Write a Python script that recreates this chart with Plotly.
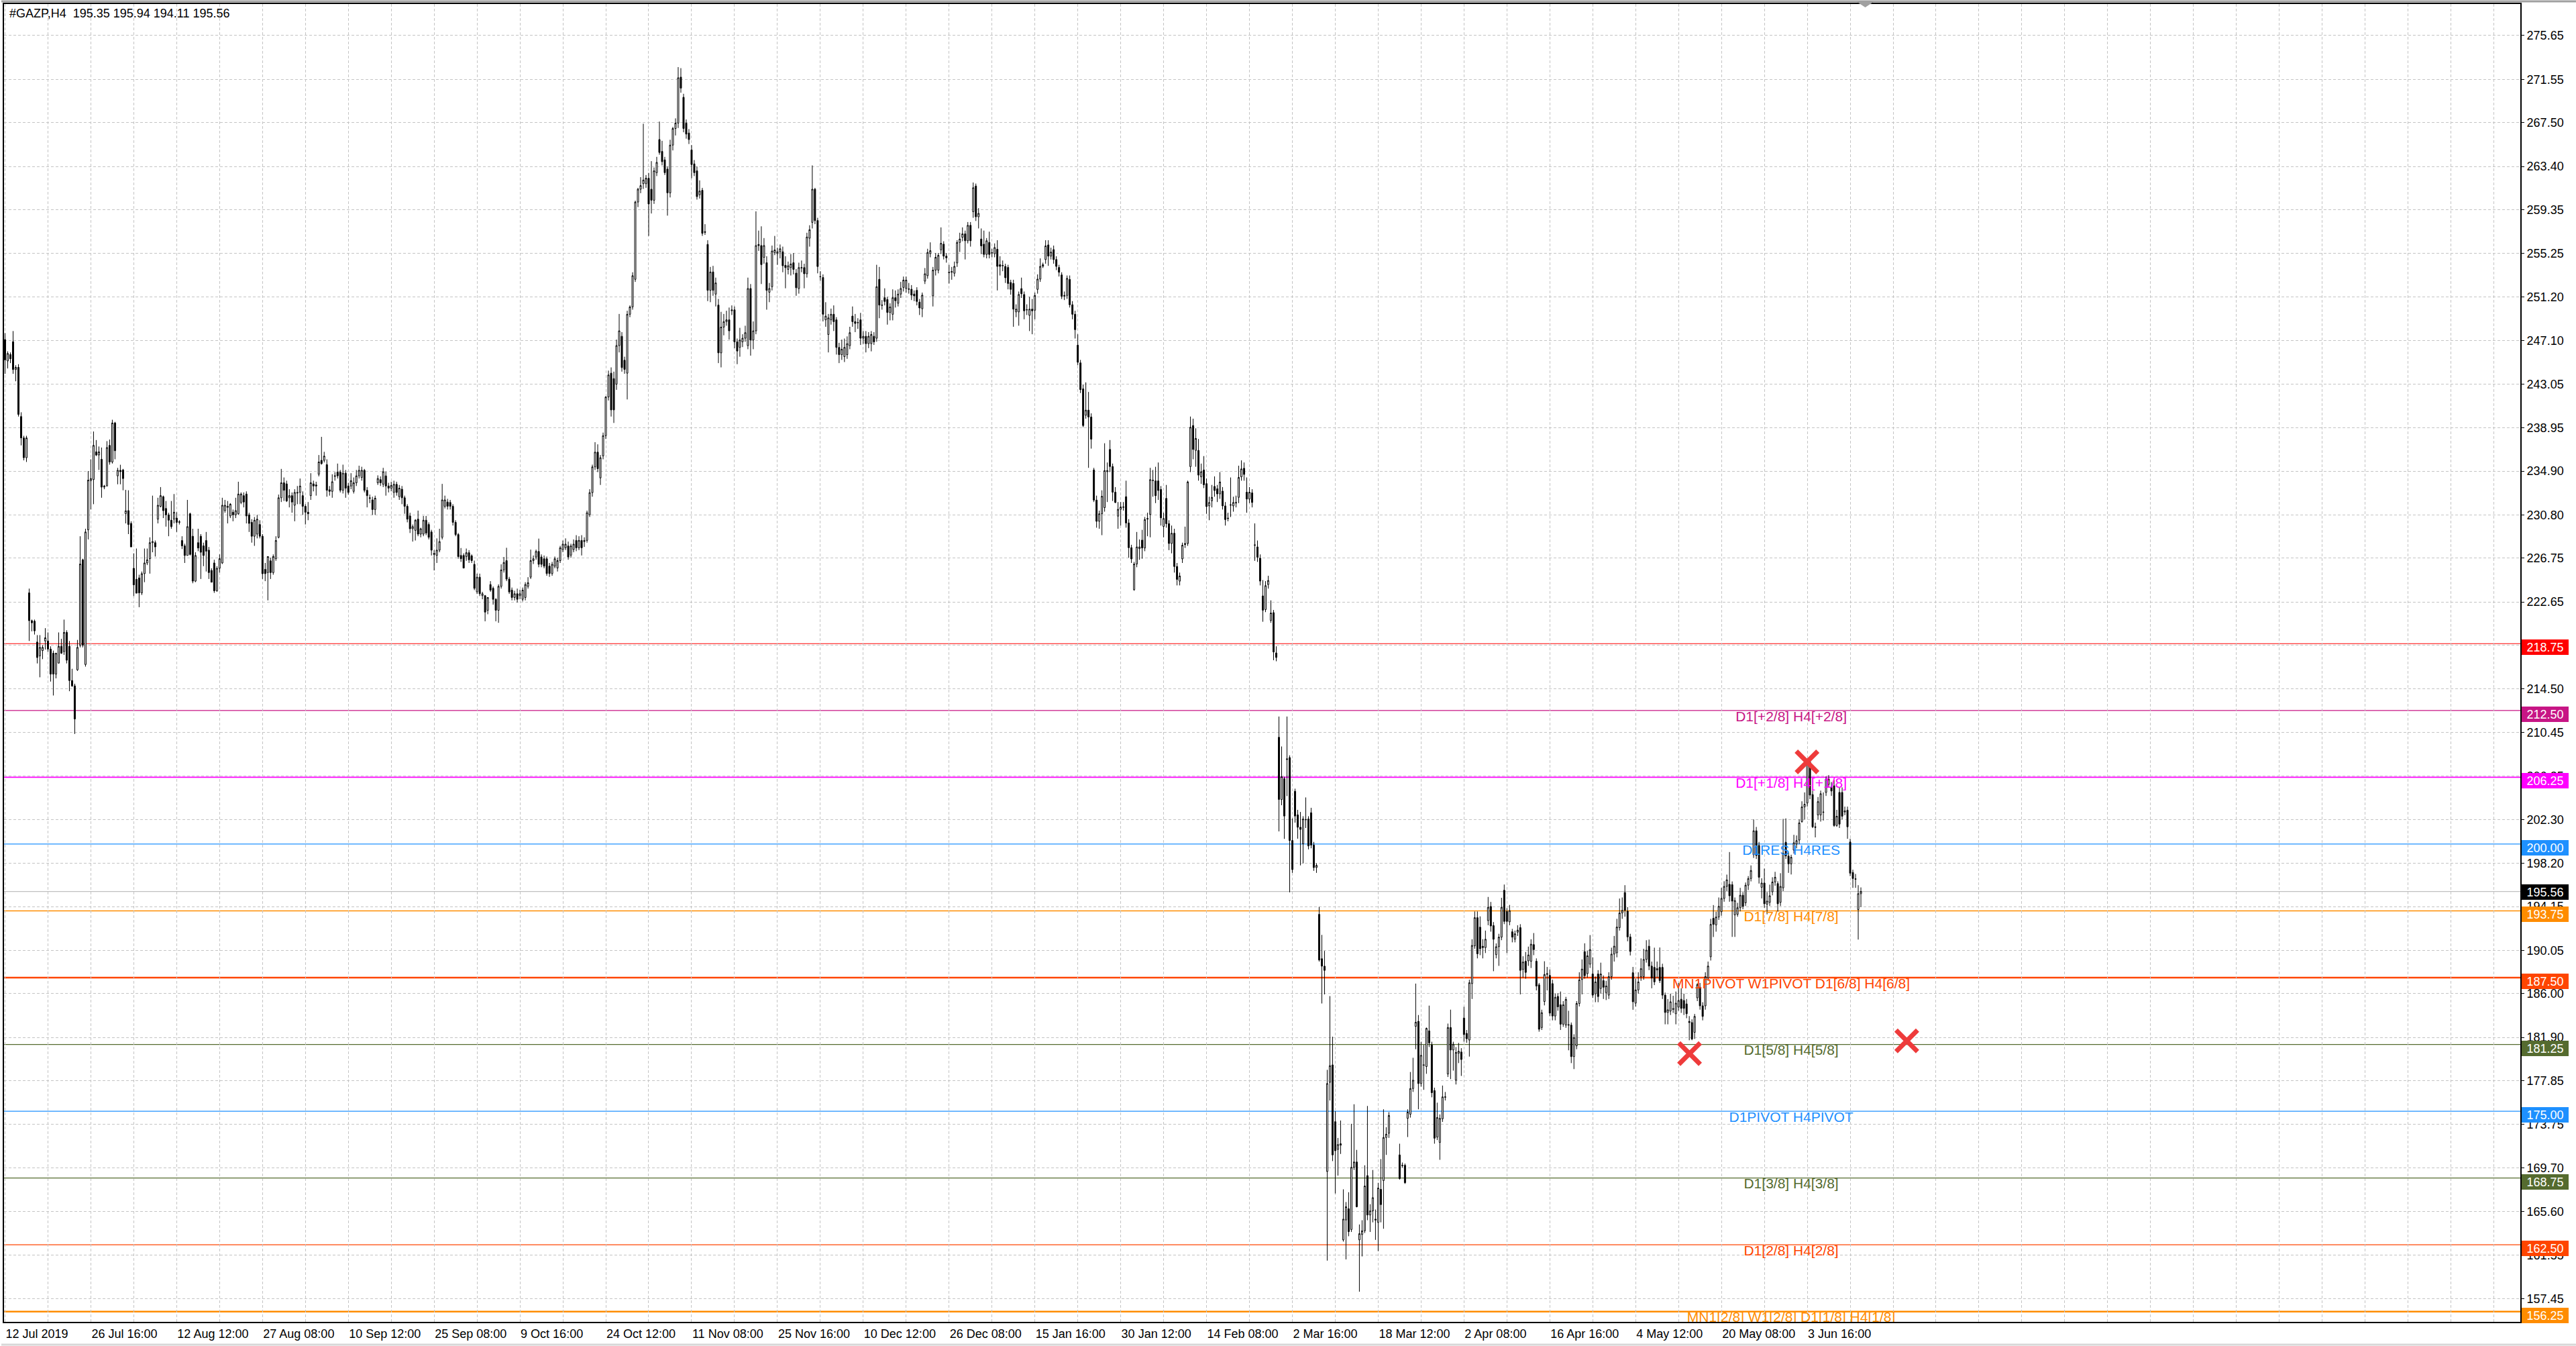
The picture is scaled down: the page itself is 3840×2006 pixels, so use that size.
import plotly.graph_objects as go

# ---------------- data ----------------
title_text = "#GAZP,H4\u00a0\u00a0195.35 195.94 194.11 195.56"

opens = [
247.2, 245.2, 245.8, 247.0, 244.4, 244.6, 240.0, 238.0, 236.15, 223.5,
220.9, 220.85, 218.9, 217.6, 218.1, 219.0, 219.0, 218.24, 217.85, 215.9,
216.93, 218.5, 218.0, 219.8, 218.5, 215.3, 214.8, 216.3, 218.6, 226.6,
216.8, 229.4, 234.0, 234.1, 236.7, 236.4, 236.0, 233.4, 233.5, 237.3,
235.75, 239.4, 234.45, 234.97, 235.0, 230.92, 231.2, 230.0, 225.8, 224.77,
224.9, 223.5, 225.3, 226.3, 226.7, 228.2, 228.2, 230.4, 231.6, 232.5,
231.4, 230.8, 230.3, 230.4, 230.5, 230.1, 228.4, 227.9, 227.0, 230.9,
228.8, 224.6, 228.2, 228.8, 227.9, 228.4, 227.5, 225.6, 226.3, 223.7,
225.8, 226.3, 231.2, 231.5, 230.7, 231.05, 230.8, 230.9, 231.96, 232.6,
232.75, 230.8, 230.1, 228.8, 229.0, 229.9, 228.8, 225.7, 225.4, 226.5,
225.4, 226.7, 228.7, 232.4, 233.8, 233.7, 232.4, 232.6, 231.7, 232.9,
232.9, 232.6, 231.6, 231.05, 232.6, 233.7, 233.6, 234.6, 235.9, 235.9,
235.5, 233.15, 233.0, 234.4, 234.8, 234.8, 233.1, 234.7, 233.5, 233.5,
233.0, 233.8, 234.45, 234.3, 234.97, 233.1, 232.4, 232.2, 231.3, 233.8,
234.1, 233.66, 234.45, 233.5, 233.3, 232.9, 233.66, 232.5, 233.2, 232.4,
231.6, 230.7, 229.5, 229.35, 230.4, 229.0, 229.0, 230.3, 229.9, 229.2,
227.2, 227.0, 227.5, 228.7, 231.6, 232.0, 231.96, 231.6, 230.1, 228.96,
227.0, 227.0, 226.9, 227.26, 226.97, 226.17, 223.6, 224.97, 223.24, 223.24,
221.87, 224.28, 223.93, 222.90, 221.87, 224.11, 225.65, 226.52, 224.79, 223.76,
223.07, 223.42, 223.24, 222.90, 223.07, 224.11, 224.97, 226.52, 226.86, 227.38,
226.86, 226.69, 226.69, 226.0, 225.31, 226.0, 225.83, 226.52, 227.55, 227.72,
227.89, 227.03, 227.55, 228.41, 227.72, 228.41, 228.3, 228.41, 230.81, 232.88,
235.29, 236.67, 234.26, 236.32, 238.21, 241.83, 244.06, 243.55, 243.03, 246.64,
247.51, 245.27, 244.06, 249.57, 250.26, 252.84, 260.07, 261.27, 261.79, 261.79,
262.30, 261.27, 260.24, 262.82, 265.92, 264.81, 264.02, 263.16, 260.93, 265.40,
266.95, 267.46, 271.76, 269.87, 267.46, 266.53, 264.95, 263.64, 262.99, 260.75,
261.17, 257.3, 256.11, 251.81, 253.53, 251.46, 250.43, 245.96, 248.37, 248.88,
249.05, 249.9, 249.98, 246.99, 246.47, 246.99, 247.33, 246.64, 251.98, 247.16,
248.02, 256.1, 256.0, 254.90, 254.39, 251.63, 252.15, 255.35, 255.25, 255.42,
255.42, 254.15, 253.77, 253.94, 254.39, 253.42, 251.98, 253.9, 253.94, 253.36,
256.69, 258.17, 261.27, 258.34, 253.1, 253.01, 249.05, 247.68, 249.05, 249.57,
249.05, 246.47, 245.79, 245.61, 245.79, 246.64, 249.40, 248.88, 248.8, 249.05,
247.33, 247.51, 246.82, 246.82, 247.51, 247.33, 252.84, 250.4, 251.12, 250.95,
249.74, 249.57, 251.12, 250.60, 251.46, 252.08, 251.98, 251.95, 251.91, 251.46,
251.81, 250.71, 250.09, 252.67, 253.18, 255.25, 251.29, 253.70, 253.70, 255.6,
256.13, 255.01, 253.5, 253.5, 253.41, 254.37, 256.29, 256.77, 257.09, 256.45,
257.89, 259.17, 261.57, 258.69, 256.61, 256.13, 255.17, 256.29, 255.3, 255.23,
255.65, 254.21, 254.1, 254.05, 253.95, 252.54, 252.45, 249.79, 249.79, 251.97,
251.42, 250.0, 249.47, 250.05, 249.95, 251.90, 252.86, 254.05, 254.69, 256.06,
255.01, 255.62, 254.69, 253.95, 253.25, 251.26, 251.33, 252.83, 250.46, 249.57,
246.68, 245.02, 242.59, 240.12, 240.60, 239.96, 235.0, 232.18, 230.20, 230.90,
231.48, 234.84, 236.92, 235.32, 232.92, 230.68, 231.32, 231.5, 232.50, 230.04,
227.73, 223.80, 226.20, 227.64, 228.44, 227.70, 230.4, 230.84, 234.0, 233.98,
233.98, 233.18, 229.72, 232.34, 229.98, 228.12, 229.08, 225.97, 224.60, 226.68,
228.02, 228.12, 235.32, 239.16, 236.83, 236.83, 234.36, 235.0, 233.72, 231.64,
232.12, 233.46, 233.24, 232.76, 233.02, 231.64, 230.5, 231.7, 231.64, 231.9,
232.44, 234.36, 235.16, 232.92, 232.28, 232.86, 228.0, 227.80, 226.74, 223.22,
221.94, 224.28, 220.92, 221.65, 217.88, 209.99, 204.17, 206.11, 207.9, 208.09,
200.33, 204.94, 202.73, 201.57, 200.02, 202.3, 202.34, 202.93, 199.90, 197.80,
193.42, 189.27, 188.57, 169.36, 177.70, 179.33, 174.02, 171.42, 171.81, 162.96,
164.82, 165.87, 163.93, 169.75, 170.25, 162.96, 163.46, 163.81, 168.97, 165.29,
165.67, 164.9, 164.59, 167.69, 168.51, 172.54, 172.93, None, None, None,
170.91, 169.9, 169.94, 174.33, 174.72, 177.12, 182.94, 183.41, 177.59, 179.3,
179.18, 182.52, 181.20, 176.93, 172.58, 172.08, 174.29, 176.3, 178.48, 182.83,
180.73, 177.90, 180.42, 180.54, 183.72, 182.28, 181.66, 186.94, 190.47, 193.11,
192.22, 190.43, 190.31, 192.84, 194.16, 192.37, 189.65, 190.39, 191.29, 195.67,
193.69, 192.72, 191.79, 191.09, 191.75, 192.18, 188.26, 189.03, 189.07, 189.03,
190.59, 189.03, 186.82, 182.83, 185.27, 187.8, 187.71, 186.94, 183.91, 185.74,
184.96, 183.14, 183.06, 183.1, 183.06, 180.11, 181.12, 185.08, 187.33, 189.93,
187.87, 188.76, 187.84, 185.98, 187.84, 186.48, 187.22, 186.10, 185.86, 187.59,
189.70, 189.82, 192.18, 193.55, 195.46, 193.72, 191.31, 187.96, 185.11, 186.35,
187.59, 187.59, 189.20, 190.44, 188.58, 188.46, 188.21, 188.46, 188.46, 185.86,
184.24, 184.37, 184.6, 184.12, 184.74, 185.48, 185.36, 185.04, 183.4, 183.30,
182.38, 185.61, 186.60, 184.86, 184.86, 187.47, 189.45, 193.05, 192.43, 193.17,
193.67, 194.91, 196.03, 196.23, 196.20, 193.37, 193.42, 194.04, 195.21, 194.5,
196.15, 196.77, 199.0, 201.24, 199.87, 195.95, 196.35, 194.37, 194.54, 195.53,
196.45, 196.30, 194.54, 195.90, 200.17, 198.88, 198.14, 199.43, 200.0, 200.37,
202.10, 203.47, 203.84, 207.69, 204.63, 201.61, 202.72, 202.72, 203.0, 204.83,
205.58, 205.33, 205.45, 201.73, 204.83, 204.83, 203.0, 203.17, 200.19, 197.34,
196.75, 193.87, 195.35,
]

highs = [
247.8, 246.1, 246.0, 248.0, 244.8, 244.9, 240.4, 238.2, 238.2, 223.9,
221.0, 221.0, 219.55, 219.55, 218.6, 220.2, 219.8, 218.5, 218.1, 217.9,
219.8, 219.2, 221.0, 220.0, 219.0, 216.4, 215.0, 219.1, 228.8, 226.7,
229.5, 234.9, 236.0, 238.6, 237.8, 237.2, 237.1, 233.6, 237.7, 237.85,
239.7, 239.5, 235.2, 235.49, 235.1, 233.14, 233.1, 230.2, 227.2, 227.65,
225.2, 225.5, 227.65, 227.65, 228.7, 232.6, 228.4, 232.4, 233.4, 232.6,
232.1, 231.0, 232.1, 232.75, 231.05, 230.3, 228.8, 228.1, 232.2, 231.0,
229.5, 227.3, 229.5, 229.0, 228.2, 229.2, 227.8, 225.8, 226.6, 226.0,
227.1, 232.4, 232.2, 232.1, 231.9, 231.3, 232.4, 233.9, 232.9, 232.9,
233.0, 231.0, 230.4, 230.6, 230.8, 230.3, 229.0, 226.3, 226.9, 226.8,
227.1, 228.8, 232.7, 235.1, 234.3, 234.0, 233.2, 232.9, 233.2, 233.5,
234.2, 233.0, 231.8, 232.0, 234.7, 234.0, 233.9, 236.4, 238.1, 236.7,
236.0, 233.5, 234.6, 234.8, 235.6, 235.0, 235.5, 235.0, 233.8, 234.7,
234.3, 235.0, 235.4, 235.3, 235.1, 233.4, 232.7, 232.5, 232.6, 234.5,
234.4, 235.2, 234.84, 233.8, 233.9, 234.0, 233.9, 233.6, 233.5, 232.6,
231.8, 231.0, 229.9, 230.4, 231.2, 229.6, 230.7, 230.7, 230.1, 229.4,
227.5, 228.6, 229.5, 233.7, 232.6, 232.3, 232.2, 231.8, 230.3, 229.1,
227.7, 227.2, 227.65, 227.5, 227.1, 226.52, 225.3, 225.3, 223.6, 223.3,
223.1, 224.6, 224.1, 223.0, 224.3, 226.17, 226.86, 227.72, 225.0, 224.0,
223.7, 223.9, 223.8, 224.0, 224.5, 224.97, 227.55, 227.0, 227.55, 228.58,
227.1, 227.0, 226.9, 226.3, 226.4, 226.9, 226.8, 227.9, 228.4, 228.6,
228.3, 228.1, 228.5, 228.9, 228.8, 228.9, 228.7, 231.2, 233.2, 235.5,
237.6, 237.4, 236.4, 238.5, 241.9, 244.3, 244.6, 244.2, 247.2, 249.6,
247.9, 245.6, 249.9, 250.4, 253.5, 260.2, 261.4, 262.4, 267.4, 262.6,
262.8, 263.9, 263.3, 264.3, 267.6, 265.8, 264.3, 263.4, 265.9, 267.1,
267.9, 272.7, 272.6, 270.2, 267.8, 266.9, 265.4, 264.0, 263.4, 262.1,
261.4, 258.0, 256.5, 254.0, 254.1, 253.0, 251.0, 249.8, 249.6, 249.9,
250.2, 250.4, 250.3, 247.3, 248.3, 247.7, 248.5, 253.0, 252.4, 248.9,
259.2, 257.4, 257.8, 256.7, 255.0, 252.5, 256.0, 256.9, 255.8, 256.1,
255.9, 255.0, 254.5, 255.2, 255.3, 253.8, 254.4, 254.6, 254.3, 257.2,
257.9, 263.5, 261.4, 258.6, 253.6, 253.3, 250.7, 249.6, 250.1, 250.4,
249.3, 246.9, 247.2, 247.3, 247.5, 248.4, 250.3, 249.6, 249.2, 249.7,
248.0, 248.0, 247.9, 248.0, 247.9, 254.2, 254.0, 250.9, 252.0, 251.2,
250.6, 251.9, 251.8, 251.9, 252.6, 253.1, 253.1, 252.5, 252.3, 251.8,
252.1, 251.0, 251.6, 253.9, 255.7, 256.3, 254.0, 255.3, 255.3, 257.7,
256.4, 255.3, 254.2, 254.0, 254.5, 256.5, 257.2, 257.7, 257.4, 258.2,
258.2, 261.9, 261.8, 259.5, 257.6, 257.4, 256.7, 257.3, 255.7, 256.2,
256.5, 255.0, 254.6, 254.3, 254.2, 252.8, 252.8, 250.5, 251.7, 253.0,
251.7, 250.5, 251.2, 251.0, 251.6, 253.3, 254.8, 254.4, 256.5, 256.5,
255.8, 256.0, 255.0, 254.2, 253.5, 251.7, 253.2, 253.2, 250.8, 249.9,
247.7, 245.3, 243.0, 243.2, 242.3, 240.3, 235.2, 232.6, 231.2, 233.1,
237.5, 235.7, 237.8, 235.6, 233.4, 232.0, 232.0, 232.0, 234.0, 230.4,
228.0, 226.4, 229.2, 228.5, 229.4, 230.6, 231.0, 235.2, 235.0, 235.3,
235.7, 233.5, 231.0, 233.6, 230.3, 229.8, 229.5, 226.3, 225.4, 228.2,
229.7, 234.0, 240.0, 239.8, 238.9, 237.9, 235.6, 236.3, 234.2, 232.5,
233.6, 234.4, 233.6, 234.8, 233.4, 232.0, 231.0, 234.3, 232.5, 232.6,
235.4, 235.9, 235.7, 234.3, 233.4, 233.2, 230.0, 228.4, 227.1, 224.7,
224.6, 225.1, 222.8, 221.9, 218.5, 211.93, 209.13, 206.3, 211.93, 208.3,
202.4, 205.18, 203.2, 203.0, 202.6, 204.36, 202.6, 203.39, 200.2, 198.2,
194.12, 191.5, 190.0, 178.87, 185.77, 181.97, 175.0, 172.5, 174.13, 167.69,
166.5, 167.42, 173.82, 175.65, 171.38, 164.4, 164.8, 169.94, 175.49, 166.3,
169.5, 165.8, 168.3, 170.52, 175.18, 173.5, 174.91, None, None, None,
171.96, 170.2, 170.1, 175.18, 178.67, 180.0, 186.94, 184.0, 181.5, 181.2,
182.83, 184.88, 181.5, 177.2, 175.8, 174.7, 177.4, 176.8, 183.2, 184.5,
181.5, 181.0, 181.39, 180.9, 184.77, 182.6, 187.3, 191.09, 193.69, 193.69,
193.23, 191.1, 191.9, 195.05, 194.58, 192.7, 190.7, 191.6, 194.97, 196.21,
194.0, 194.3, 192.06, 191.9, 192.4, 192.5, 189.5, 189.9, 190.4, 191.09,
191.67, 189.3, 187.0, 184.5, 189.03, 188.5, 188.26, 187.3, 186.0, 186.05,
186.2, 185.3, 185.7, 184.4, 183.3, 182.2, 185.3, 188.0, 189.2, 190.71,
190.0, 191.48, 189.4, 187.6, 188.2, 188.9, 187.7, 187.2, 188.0, 190.3,
191.4, 193.0, 194.9, 195.0, 196.15, 194.1, 191.6, 188.5, 187.4, 188.0,
189.3, 190.2, 191.0, 191.06, 189.0, 190.3, 189.0, 190.32, 188.8, 186.1,
185.5, 186.0, 185.8, 186.2, 187.0, 186.5, 186.0, 185.5, 183.9, 183.6,
184.1, 186.97, 187.0, 185.2, 188.0, 189.0, 193.0, 194.29, 193.67, 195.0,
195.90, 196.52, 197.14, 199.25, 196.5, 195.0, 194.5, 195.90, 195.5, 196.4,
197.0, 198.0, 202.30, 201.6, 200.2, 196.8, 197.7, 195.5, 196.2, 196.89,
197.4, 196.52, 197.27, 202.35, 202.40, 199.2, 199.0, 200.86, 200.8, 202.3,
204.0, 204.83, 208.0, 208.06, 205.0, 202.0, 204.4, 205.0, 204.83, 206.32,
206.45, 205.8, 206.0, 203.2, 205.3, 205.3, 203.5, 203.5, 200.5, 197.6,
197.2, 196.15, 195.94,
]

lows = [
244.0, 244.5, 245.0, 244.0, 243.3, 240.0, 237.3, 235.9, 235.75, 219.0,
219.9, 219.6, 216.9, 215.6, 217.3, 218.2, 217.98, 215.2, 213.9, 215.5,
216.9, 217.8, 217.7, 216.9, 214.3, 214.7, 210.3, 216.2, 218.4, 218.4,
216.6, 228.5, 231.3, 231.8, 236.3, 235.0, 232.4, 233.2, 233.5, 235.5,
235.6, 236.0, 233.66, 233.66, 233.1, 230.0, 229.0, 227.8, 223.2, 223.47,
222.16, 223.3, 224.5, 226.1, 225.3, 227.3, 226.9, 230.0, 231.5, 230.5,
229.7, 228.8, 229.5, 230.0, 229.2, 229.9, 227.6, 226.3, 227.0, 227.0,
224.4, 224.5, 227.4, 224.8, 226.0, 225.5, 224.8, 224.5, 223.5, 223.6,
225.4, 226.2, 231.0, 230.0, 230.5, 230.2, 230.5, 230.8, 231.8, 231.5,
230.0, 229.2, 228.2, 227.9, 228.6, 228.6, 224.8, 224.6, 222.8, 224.8,
225.2, 226.5, 228.6, 232.0, 232.1, 232.0, 231.5, 231.0, 230.2, 231.8,
231.8, 230.8, 229.9, 230.3, 232.2, 233.0, 232.6, 234.4, 235.5, 235.7,
232.5, 232.6, 232.4, 234.0, 234.2, 232.9, 232.8, 232.4, 232.7, 233.2,
232.8, 233.5, 234.2, 234.0, 232.9, 231.5, 231.9, 230.8, 230.8, 233.6,
233.5, 233.4, 232.6, 232.9, 233.0, 232.4, 232.6, 232.2, 231.8, 230.9,
230.1, 229.1, 228.3, 228.4, 228.8, 228.7, 228.8, 228.9, 228.5, 227.0,
225.6, 226.3, 227.3, 228.5, 231.4, 231.3, 231.3, 229.8, 228.8, 226.7,
226.4, 225.8, 226.5, 226.3, 226.3, 223.76, 223.4, 223.2, 222.9, 220.84,
221.5, 223.6, 222.4, 220.84, 220.7, 223.9, 225.4, 224.6, 223.4, 222.8,
222.8, 222.6, 222.9, 222.7, 222.8, 223.9, 224.8, 226.2, 226.6, 225.9,
225.9, 225.8, 225.1, 225.0, 225.1, 225.8, 225.5, 226.3, 227.3, 227.5,
226.6, 226.8, 227.3, 227.4, 227.5, 227.0, 227.8, 228.2, 230.6, 232.5,
235.0, 234.8, 233.6, 236.0, 237.9, 241.5, 240.0, 239.4, 242.5, 246.0,
244.2, 244.0, 241.6, 249.3, 250.0, 252.6, 259.6, 260.9, 261.3, 261.4,
256.9, 259.0, 259.9, 262.5, 264.5, 263.5, 262.6, 258.8, 260.5, 264.9,
266.3, 267.0, 270.3, 266.6, 266.0, 265.5, 262.3, 262.5, 260.3, 260.4,
256.9, 257.0, 250.8, 250.7, 251.3, 250.3, 245.0, 244.6, 247.6, 248.5,
247.2, 249.5, 246.4, 244.9, 245.6, 246.5, 247.0, 246.3, 245.7, 246.3,
247.7, 255.5, 252.4, 254.3, 250.0, 250.7, 251.8, 255.1, 254.2, 254.8,
253.5, 252.0, 253.3, 253.2, 253.3, 251.3, 251.5, 253.5, 252.0, 253.0,
255.9, 257.6, 258.0, 253.4, 252.7, 248.9, 248.4, 246.0, 248.6, 248.0,
245.8, 245.0, 245.3, 245.1, 245.4, 246.3, 248.4, 247.9, 248.2, 246.7,
246.8, 246.0, 246.4, 246.1, 246.7, 247.0, 249.2, 250.0, 250.4, 248.6,
249.0, 249.0, 250.2, 250.3, 251.1, 251.7, 251.6, 251.5, 250.9, 250.8,
250.4, 249.5, 249.3, 252.4, 252.9, 254.9, 250.3, 253.2, 253.4, 255.2,
254.7, 254.4, 252.45, 252.8, 253.1, 254.0, 255.4, 256.4, 254.7, 256.2,
255.9, 258.6, 258.3, 257.6, 255.2, 254.9, 254.8, 254.8, 254.9, 254.9,
251.8, 253.2, 253.6, 252.5, 251.9, 251.4, 248.4, 249.3, 248.5, 251.1,
249.1, 249.5, 248.0, 247.7, 249.1, 251.5, 252.6, 253.9, 254.3, 254.1,
254.7, 254.3, 253.7, 253.1, 251.0, 250.9, 251.0, 250.2, 249.1, 247.3,
244.8, 242.2, 239.0, 239.8, 235.2, 237.0, 232.0, 229.6, 229.5, 228.9,
231.1, 232.0, 234.8, 232.1, 231.9, 229.5, 229.8, 231.2, 229.6, 226.8,
226.3, 223.7, 225.9, 226.6, 226.7, 227.4, 228.8, 228.7, 232.5, 231.9,
232.2, 229.8, 228.7, 229.6, 227.5, 227.2, 225.4, 224.2, 224.2, 226.3,
227.7, 227.9, 234.8, 236.0, 235.3, 234.0, 233.7, 233.3, 230.9, 230.3,
231.5, 232.5, 232.0, 232.3, 231.3, 229.8, 230.2, 230.6, 231.1, 231.5,
231.9, 234.0, 234.0, 231.0, 231.9, 231.5, 226.5, 226.4, 224.2, 220.8,
221.7, 223.9, 220.7, 217.2, 217.1, 201.18, 203.63, 200.48, 204.48, 195.48,
197.30, 202.0, 200.5, 198.0, 198.19, 201.5, 199.5, 199.6, 197.49, 197.3,
189.0, 185.08, 185.93, 161.02, 176.0, 170.33, 167.30, 168.97, 171.0, 162.8,
161.13, 163.3, 163.7, 169.5, 166.0, 158.11, 161.41, 163.6, 164.8, 163.7,
164.6, 162.96, 161.91, 164.6, 164.0, 170.91, 172.5, None, None, None,
168.6, 169.7, 168.2, 172.58, 174.4, 176.8, 180.8, 175.18, 177.3, 177.0,
178.5, 181.0, 176.3, 171.96, 172.3, 170.45, 174.0, 176.0, 178.2, 178.0,
178.8, 177.5, 179.5, 178.3, 181.5, 181.4, 180.11, 185.5, 190.2, 189.3,
189.6, 189.3, 189.8, 192.4, 191.8, 188.1, 189.3, 188.6, 191.0, 192.5,
189.8, 192.4, 190.8, 190.8, 191.4, 185.93, 187.5, 187.4, 188.6, 188.4,
189.6, 186.3, 182.44, 182.6, 184.9, 186.3, 183.9, 183.5, 183.5, 184.4,
182.6, 182.9, 182.8, 180.7, 179.5, 178.94, 180.8, 184.8, 185.93, 187.4,
187.5, 188.4, 185.6, 185.2, 185.2, 186.0, 185.5, 185.4, 185.5, 187.3,
189.0, 189.4, 191.9, 193.0, 193.2, 190.9, 189.57, 184.49, 184.8, 186.0,
187.2, 187.3, 188.9, 188.2, 186.5, 186.8, 187.5, 187.0, 185.5, 183.13,
183.13, 184.0, 184.2, 183.13, 184.4, 184.2, 184.0, 183.7, 181.64, 181.64,
181.76, 185.3, 184.5, 183.5, 184.5, 187.2, 189.1, 191.3, 191.8, 192.9,
193.3, 194.6, 195.6, 194.6, 191.31, 191.31, 193.2, 193.7, 193.9, 194.2,
195.7, 196.5, 198.7, 198.6, 196.3, 194.91, 194.04, 193.42, 194.2, 195.2,
196.1, 193.67, 194.2, 195.6, 198.6, 197.3, 197.15, 199.1, 199.6, 200.0,
202.0, 202.3, 203.5, 204.2, 201.49, 200.62, 202.3, 202.10, 202.2, 204.5,
205.3, 204.5, 201.61, 201.61, 201.5, 202.3, 202.7, 200.49, 197.0, 195.90,
195.9, 191.06, 194.11,
]

closes = [
245.3, 245.9, 245.4, 244.4, 244.6, 240.2, 238.0, 236.15, 238.0, 220.9,
220.7, 219.95, 217.45, 218.4, 218.4, 219.3, 218.24, 215.9, 215.9, 217.85,
218.5, 217.85, 219.8, 217.2, 215.3, 214.8, 211.7, 218.4, 226.2, 218.6,
229.2, 234.05, 234.2, 237.3, 236.4, 236.7, 233.4, 233.5, 237.1, 235.75,
239.4, 236.8, 234.97, 234.84, 234.2, 231.18, 229.9, 227.8, 224.25, 223.47,
223.5, 225.3, 226.3, 226.6, 228.2, 228.3, 227.8, 231.7, 232.6, 231.2,
230.8, 230.3, 229.7, 231.05, 230.1, 230.15, 227.9, 227.0, 229.7, 227.1,
224.6, 227.0, 227.7, 227.3, 227.0, 227.4, 225.4, 224.5, 223.7, 225.8,
226.7, 231.7, 231.7, 231.6, 231.8, 230.8, 231.2, 232.75, 232.75, 232.0,
230.7, 230.0, 228.8, 230.3, 230.4, 228.8, 225.3, 225.3, 226.9, 225.4,
226.9, 228.4, 232.4, 233.8, 233.1, 232.1, 232.6, 232.0, 232.9, 232.85,
233.5, 231.6, 231.05, 230.9, 233.8, 233.5, 233.5, 235.75, 235.6, 236.3,
233.1, 233.0, 233.9, 234.45, 234.45, 233.1, 234.7, 233.3, 232.9, 234.0,
233.8, 234.45, 234.97, 234.97, 233.1, 232.6, 232.35, 231.3, 232.36, 234.2,
233.8, 234.84, 233.5, 233.3, 233.55, 233.66, 232.9, 233.3, 232.4, 231.6,
230.4, 229.5, 229.7, 230.3, 229.0, 229.5, 230.3, 229.1, 228.7, 227.5,
227.1, 227.5, 228.3, 232.2, 232.2, 231.6, 231.6, 230.1, 228.96, 226.9,
226.7, 225.82, 227.26, 226.6, 226.52, 223.93, 224.97, 223.42, 223.42, 221.70,
223.07, 223.76, 222.90, 221.87, 224.11, 225.65, 226.34, 224.79, 223.59, 223.07,
223.42, 222.90, 223.42, 223.76, 224.28, 224.45, 226.52, 226.69, 227.38, 226.17,
226.17, 226.0, 225.31, 225.31, 226.17, 226.69, 226.52, 227.72, 228.06, 228.06,
226.86, 227.89, 228.06, 227.72, 228.41, 227.72, 228.41, 231.0, 232.88, 235.29,
236.67, 235.12, 236.15, 238.21, 241.83, 243.89, 240.62, 240.62, 246.64, 248.02,
244.58, 244.41, 249.57, 250.26, 253.18, 260.07, 261.27, 261.61, 262.13, 262.30,
259.89, 260.24, 262.99, 263.78, 264.71, 263.85, 262.82, 260.93, 265.40, 266.95,
267.46, 271.70, 270.73, 266.95, 266.43, 265.92, 263.58, 262.82, 260.58, 261.10,
257.14, 257.24, 251.81, 253.53, 251.81, 252.50, 245.96, 248.37, 248.88, 249.05,
248.02, 249.98, 246.99, 246.13, 247.16, 247.33, 247.85, 251.98, 247.16, 248.02,
256.0, 256.0, 254.22, 256.0, 251.81, 251.98, 255.49, 255.59, 255.42, 255.70,
254.11, 253.94, 254.11, 254.28, 253.77, 252.05, 253.94, 253.94, 253.36, 256.80,
257.48, 261.27, 258.34, 254.04, 253.08, 249.57, 249.40, 249.23, 249.57, 248.88,
246.47, 245.79, 246.30, 246.47, 246.82, 247.85, 248.88, 248.71, 248.78, 247.33,
247.51, 246.82, 247.51, 247.68, 246.99, 252.15, 250.43, 250.43, 250.77, 249.74,
250.26, 251.12, 250.84, 251.46, 251.98, 252.77, 252.77, 251.91, 251.36, 251.29,
250.77, 250.16, 251.36, 253.36, 255.35, 255.52, 253.70, 254.90, 255.08, 256.21,
255.01, 254.85, 253.47, 253.57, 254.05, 256.29, 256.61, 257.09, 256.45, 257.89,
256.45, 261.41, 258.69, 259.01, 255.97, 255.17, 256.45, 255.17, 255.33, 255.81,
254.05, 254.05, 254.14, 252.99, 252.45, 251.90, 250.05, 250.05, 251.42, 251.49,
249.89, 249.98, 250.05, 249.89, 251.33, 252.86, 254.05, 254.21, 255.97, 255.01,
255.39, 254.69, 254.05, 253.50, 251.26, 251.33, 252.93, 250.46, 249.57, 248.13,
245.08, 242.52, 239.16, 240.60, 239.96, 237.88, 232.18, 230.20, 230.90, 232.54,
234.94, 234.94, 235.32, 232.92, 231.96, 231.32, 231.54, 231.54, 230.04, 227.73,
226.68, 226.20, 227.80, 227.80, 227.70, 230.36, 230.46, 234.10, 234.04, 232.60,
233.08, 230.52, 230.46, 229.98, 228.12, 229.08, 225.97, 224.76, 225.08, 227.96,
228.12, 233.88, 239.0, 236.92, 237.95, 234.52, 234.84, 233.62, 231.58, 231.96,
232.44, 233.08, 232.76, 233.88, 231.64, 230.36, 230.46, 231.74, 231.96, 231.96,
234.30, 235.10, 234.58, 232.28, 232.92, 231.96, 227.96, 226.84, 224.60, 221.88,
224.18, 224.66, 221.62, 217.97, 217.46, 204.17, 206.30, 202.62, 207.97, 200.33,
197.61, 202.62, 201.57, 201.37, 202.34, 202.27, 199.82, 199.90, 197.80, 198.0,
189.15, 188.57, 188.18, 177.59, 179.26, 170.91, 171.30, 171.88, 171.96, 164.90,
166.06, 163.73, 169.75, 170.25, 166.06, 163.54, 163.81, 168.0, 165.29, 165.67,
166.91, 164.82, 167.81, 166.26, 172.54, 172.85, 174.60, None, None, None,
168.70, 169.94, 168.31, 174.91, 177.12, 177.90, 183.33, 177.59, 180.23, 179.33,
182.75, 181.39, 176.73, 172.47, 174.41, 174.33, 176.34, 176.34, 182.83, 180.73,
181.27, 180.50, 180.61, 179.84, 182.17, 181.78, 187.02, 190.51, 193.11, 189.73,
190.20, 190.31, 191.09, 194.08, 192.33, 191.09, 190.39, 191.29, 194.08, 192.76,
192.76, 193.77, 191.29, 191.60, 191.94, 188.18, 188.96, 187.99, 189.62, 190.63,
190.12, 186.71, 182.67, 184.22, 187.79, 187.87, 184.18, 183.91, 185.66, 184.77,
183.14, 184.96, 185.46, 183.06, 180.11, 181.89, 185.08, 187.29, 188.30, 187.68,
189.54, 190.12, 185.86, 187.10, 185.73, 187.84, 186.60, 186.72, 187.59, 189.70,
190.44, 192.23, 193.55, 193.79, 193.79, 191.31, 189.95, 185.24, 186.35, 187.10,
188.34, 189.20, 190.07, 188.58, 187.47, 187.10, 188.34, 187.22, 185.86, 184.24,
184.49, 185.24, 184.54, 185.11, 185.36, 184.62, 184.62, 184.12, 183.30, 181.76,
183.87, 186.85, 184.86, 183.87, 187.59, 188.58, 192.48, 192.48, 193.17, 194.17,
194.91, 196.03, 196.65, 195.16, 194.66, 194.71, 194.04, 195.21, 194.17, 196.15,
196.77, 197.52, 201.24, 198.93, 196.89, 196.35, 194.41, 194.66, 195.16, 196.45,
196.89, 194.41, 196.03, 199.13, 198.88, 198.14, 198.76, 200.12, 200.32, 201.98,
203.47, 203.72, 207.69, 204.58, 201.61, 201.56, 203.97, 204.71, 202.97, 206.07,
206.07, 204.96, 201.73, 202.60, 201.86, 202.60, 203.10, 201.61, 197.27, 196.77,
196.70, 195.36, 195.56,
]

date_labels = ["12 Jul 2019", "26 Jul 16:00", "12 Aug 12:00", "27 Aug 08:00",
               "10 Sep 12:00", "25 Sep 08:00", "9 Oct 16:00", "24 Oct 12:00",
               "11 Nov 08:00", "25 Nov 16:00", "10 Dec 12:00", "26 Dec 08:00",
               "15 Jan 16:00", "30 Jan 12:00", "14 Feb 08:00", "2 Mar 16:00",
               "18 Mar 12:00", "2 Apr 08:00", "16 Apr 16:00", "4 May 12:00",
               "20 May 08:00", "3 Jun 16:00"]
bars_per_label = 32
bars_per_grid = 16
grid_count = 59

price_ticks = [275.65, 271.55, 267.50, 263.40, 259.35, 255.25, 251.20, 247.10,
               243.05, 238.95, 234.90, 230.80, 226.75, 222.65, 218.60, 214.50,
               210.45, 206.35, 202.30, 198.20, 194.15, 190.05, 186.00, 181.90,
               177.85, 173.75, 169.70, 165.60, 161.55, 157.45]

level_prices = [218.75, 212.50, 206.25, 200.00, 193.75, 187.50, 181.25, 175.00,
                168.75, 162.50, 156.25]
level_colors = ["#FF0000", "#C71585", "#FF00FF", "#1E90FF", "#FF8C00", "#FF4500",
                "#556B2F", "#1E90FF", "#556B2F", "#FF4500", "#FF8C00"]
level_widths = [1.2, 1.2, 1.6, 1.2, 1.6, 2.4, 1.3, 1.2, 1.3, 1.2, 2.6]
level_names = ["", "D1[+2/8] H4[+2/8]", "D1[+1/8] H4[+1/8]", "D1RES H4RES",
               "D1[7/8] H4[7/8]", "MN1PIVOT W1PIVOT D1[6/8] H4[6/8]",
               "D1[5/8] H4[5/8]", "D1PIVOT H4PIVOT", "D1[3/8] H4[3/8]",
               "D1[2/8] H4[2/8]", "MN1[2/8] W1[2/8] D1[1/8] H4[1/8]"]
level_label_bar = 666
bid_price = 195.56

cross_bars = [671.9, 628.1, 709.1]
cross_prices = [207.69, 180.39, 181.58]

assert len(opens) == len(highs) == len(lows) == len(closes)

# ---------------- figure ----------------
W, H = 3840, 2006
ML, MR, MT, MB = 4, 83, 5, 36
PW = W - ML - MR
PH = H - MT - MB

bar_index = list(range(len(closes)))
FONT = "Liberation Sans, Arial, sans-serif"

fig = go.Figure()

fig.add_trace(go.Candlestick(
    x=bar_index, open=opens, high=highs, low=lows, close=closes,
    increasing=dict(line=dict(color="black", width=1), fillcolor="white"),
    decreasing=dict(line=dict(color="black", width=1), fillcolor="black"),
    whiskerwidth=0, hoverinfo="skip", showlegend=False,
))

# level labels (clipped to the plot area)
lbl_y = [p for p, t in zip(level_prices, level_names) if t]
lbl_t = [t for t in level_names if t]
lbl_c = [c for c, t in zip(level_colors, level_names) if t]
fig.add_trace(go.Scatter(
    x=[level_label_bar] * len(lbl_y), y=lbl_y, text=lbl_t, mode="text",
    textposition="bottom center",
    textfont=dict(family=FONT, size=21, color=lbl_c),
    hoverinfo="skip", showlegend=False, cliponaxis=True,
))

# red crosses
fig.add_trace(go.Scatter(
    x=cross_bars, y=cross_prices, mode="markers",
    marker=dict(symbol="x-thin", size=32, line=dict(color="#EE3B3B", width=7)),
    hoverinfo="skip", showlegend=False,
))

shapes = []
for p, c, w in zip(level_prices, level_colors, level_widths):
    shapes.append(dict(type="line", xref="paper", x0=0, x1=1, yref="y", y0=p, y1=p,
                       line=dict(color=c, width=w), layer="between"))
shapes.append(dict(type="line", xref="paper", x0=0, x1=1, yref="y", y0=bid_price,
                   y1=bid_price, line=dict(color="#C0C0C0", width=1.2), layer="between"))

# window chrome: top border and the chart-shift marker
def px_x(X):
    return (X - ML) / PW

def px_y(Y):
    return (H - MB - Y) / PH

shapes.append(dict(type="line", xref="paper", yref="paper", x0=px_x(0), x1=px_x(W),
                   y0=px_y(1), y1=px_y(1), line=dict(color="#A0A0A0", width=3)))
shapes.append(dict(type="line", xref="paper", yref="paper", x0=px_x(0), x1=px_x(W),
                   y0=px_y(2004), y1=px_y(2004), line=dict(color="#D8D8D8", width=3)))
shapes.append(dict(type="path", xref="paper", yref="paper",
                   path=f"M {px_x(2768)},{px_y(2)} L {px_x(2792)},{px_y(2)} L {px_x(2780)},{px_y(10)} Z",
                   fillcolor="#A0A0A0", line=dict(width=0)))

annotations = [dict(text=title_text, xref="paper", yref="paper", x=px_x(10), y=px_y(19.5),
                    xanchor="left", yanchor="middle", showarrow=False,
                    font=dict(family=FONT, size=18, color="black"))]

for p, c in zip(level_prices, level_colors):
    annotations.append(dict(text=f"{p:.2f}", xref="paper", yref="y", x=px_x(3759), y=p,
                            xanchor="left", yanchor="middle", yshift=-5.5, showarrow=False,
                            width=70, height=23, bgcolor=c, borderpad=0, borderwidth=0,
                            align="center", font=dict(family=FONT, size=18, color="white")))
annotations.append(dict(text=f"{bid_price:.2f}", xref="paper", yref="y", x=px_x(3759), y=bid_price,
                        xanchor="left", yanchor="middle", yshift=-0.5, showarrow=False,
                        width=70, height=23, bgcolor="black", borderpad=0, borderwidth=0,
                        align="center", font=dict(family=FONT, size=18, color="white")))

grid_vals = [i * bars_per_grid for i in range(grid_count)]
grid_text = []
for i in range(grid_count):
    k = i * bars_per_grid // bars_per_label
    if (i * bars_per_grid) % bars_per_label == 0 and k < len(date_labels):
        grid_text.append(date_labels[k])
    else:
        grid_text.append("")

x0_bar = (ML - 5.5) / 4.0
x1_bar = (W - MR - 5.5) / 4.0

fig.update_layout(
    width=W, height=H, margin=dict(l=ML, r=MR, t=MT, b=MB, pad=0),
    paper_bgcolor="white", plot_bgcolor="white",
    font=dict(family=FONT, size=18, color="black"),
    shapes=shapes, annotations=annotations, showlegend=False,
    xaxis=dict(
        range=[x0_bar, x1_bar], tickmode="array", tickvals=grid_vals, ticktext=grid_text,
        showgrid=True, gridcolor="#C4C4C4", griddash="4px,3px", gridwidth=1,
        ticks="", ticklabelposition="outside right", tickfont=dict(size=18, color="black"),
        showline=True, mirror=True, linecolor="black", linewidth=2, zeroline=False,
        rangeslider=dict(visible=False), fixedrange=True,
    ),
    yaxis=dict(
        side="right", range=[155.29, 278.6], tickmode="array", tickvals=price_ticks,
        ticktext=[f"{v:.2f}" for v in price_ticks],
        showgrid=True, gridcolor="#C4C4C4", griddash="4px,3px", gridwidth=1,
        ticks="outside", ticklen=4, tickcolor="black", tickfont=dict(size=18, color="black"),
        showline=True, mirror=True, linecolor="black", linewidth=2, zeroline=False,
        fixedrange=True,
    ),
)

fig.write_html("out.html", config={"displayModeBar": False},
               post_script="document.body.style.margin='0px';document.body.style.overflow='hidden';")
